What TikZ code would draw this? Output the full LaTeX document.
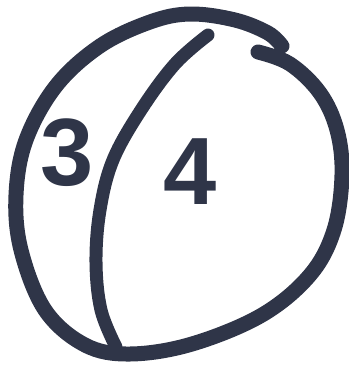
\documentclass[tikz,border=0pt]{standalone}
\usepackage{fontspec}
\setmainfont{Liberation Sans}
\definecolor{ink}{HTML}{2F3548}
\usepackage{tikz}

\begin{document}
\begin{tikzpicture}[x=1bp,y=-1bp,line cap=round,line join=round,every node/.style={font=\fontsize{96}{96}\selectfont\bfseries,text=ink,inner sep=0pt}]
\useasboundingbox (0,0) rectangle (349,366);
\draw[ink,line width=15bp] plot[smooth,tension=0.6] coordinates {(258,52) (290,64) (320,93) (337,130) (342,175) (334,230) (310,275) (262,315) (192,344) (130,354) (85,345) (45,310) (21,250) (16,195) (26,140) (56,86) (100,46) (150,22) (190,14) (235,20) (268,33) (282,46)};
\draw[ink,line width=13bp] plot[smooth,tension=0.6] coordinates {(208,35) (175,64) (141,110) (113,160) (100,210) (96,262) (101,310) (116,347)};
\node (three) at (67,153) {3};
\node (four) at (190,172) {4};
\end{tikzpicture}
\end{document}
